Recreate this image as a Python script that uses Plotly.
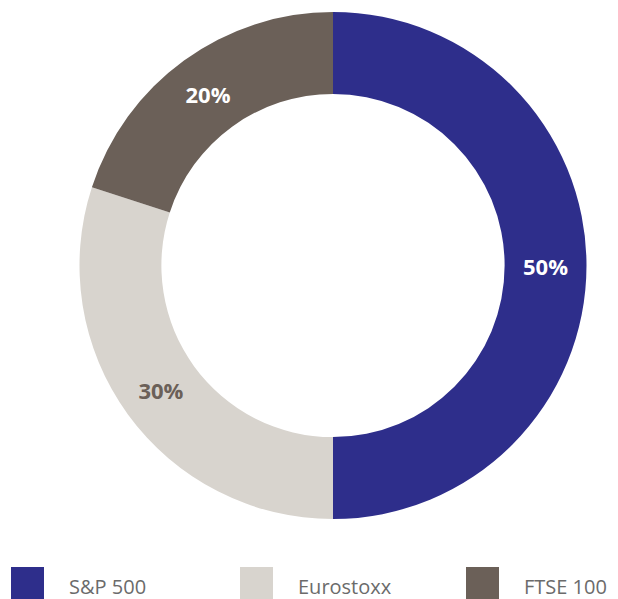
import plotly.graph_objects as go

categories = ["S&P 500", "Eurostoxx", "FTSE 100"]
values = [50, 30, 20]
colors = ["#2e2e8b", "#d8d4ce", "#6b6058"]
label_colors = ["#ffffff", "#6b6058", "#ffffff"]

W, H = 618, 599

def px_x(x):
    return x / W

def px_y(y):
    return 1 - y / H

fig = go.Figure()
fig.add_trace(go.Pie(
    labels=categories,
    values=values,
    hole=0.677,
    sort=False,
    direction="clockwise",
    rotation=0,
    marker=dict(colors=colors, line=dict(width=0)),
    texttemplate="%{percent:.0%}",
    textposition="inside",
    insidetextorientation="horizontal",
    insidetextfont=dict(family="Open Sans", size=22, color=label_colors, weight="bold"),
    domain=dict(x=[px_x(79.5), px_x(586.5)], y=[px_y(519), px_y(12)]),
    showlegend=False,
    hoverinfo="label+percent",
))

# custom legend along the bottom
legend_x = [11, 240, 466]
shapes = []
annotations = []
for i, name in enumerate(categories):
    x0 = legend_x[i]
    shapes.append(dict(type="rect", xref="paper", yref="paper",
                       x0=px_x(x0), x1=px_x(x0 + 33),
                       y0=px_y(599), y1=px_y(567),
                       fillcolor=colors[i], line=dict(width=0), layer="above"))
    annotations.append(dict(xref="paper", yref="paper",
                            x=px_x(x0 + 56), y=px_y(586),
                            xanchor="left", yanchor="middle",
                            text=name, showarrow=False,
                            font=dict(family="Open Sans", size=20, color="#6b6b6b")))

fig.update_layout(
    width=W, height=H,
    margin=dict(l=0, r=0, t=0, b=0),
    paper_bgcolor="#ffffff",
    plot_bgcolor="#ffffff",
    shapes=shapes,
    annotations=annotations,
)

fig.write_html("out.html", config={"displayModeBar": False},
               post_script="document.body.style.margin='0';document.body.style.overflow='hidden';")
